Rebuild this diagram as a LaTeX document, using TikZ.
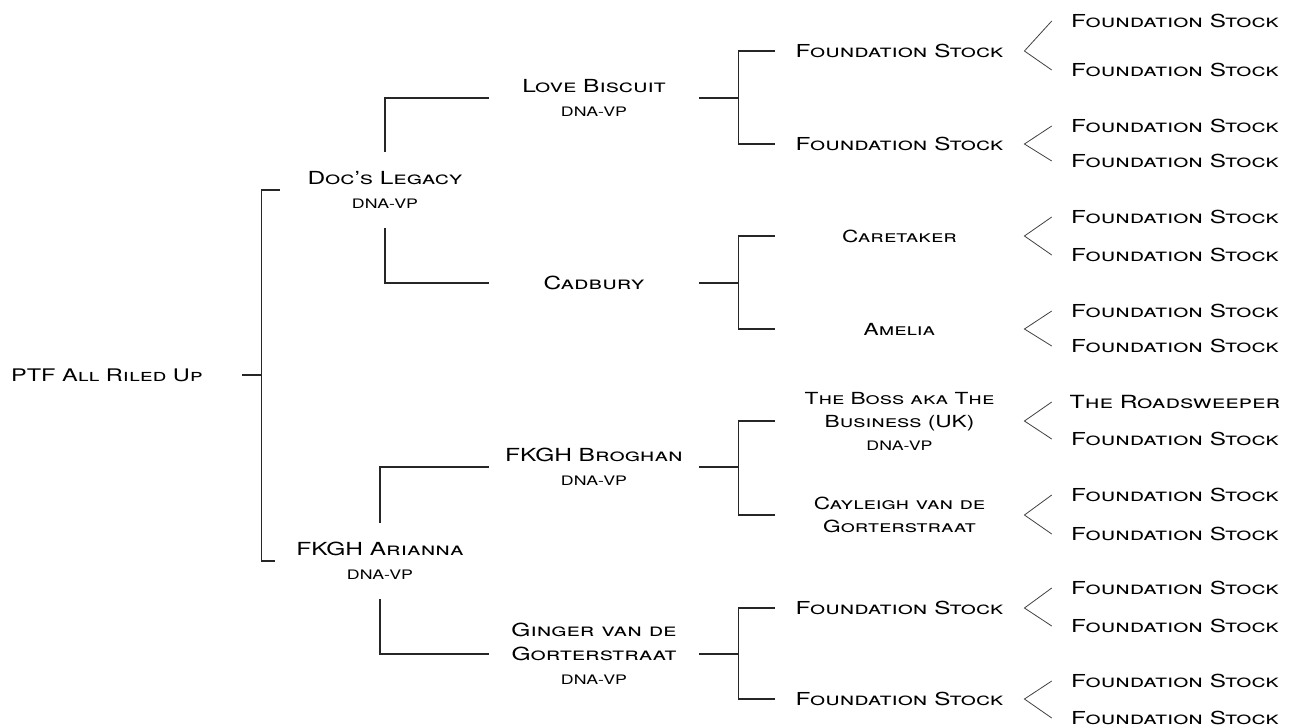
\documentclass[tikz,border=0pt]{standalone}
\usepackage{fontspec}
\setmainfont{TeX Gyre Heros}[FakeStretch=1.36]
\newcommand{\dnavp}{{\fontsize{9.8}{17.5}\selectfont\upshape DNA-VP}}
\tikzset{
    root/.style={font=\fontsize{13}{18}\selectfont\scshape, inner sep=0pt, minimum width=202.5pt},
    horse/.style={font=\fontsize{13.5}{18}\selectfont\scshape, align=center, inner sep=0pt,
        minimum width=157.5pt, minimum height=57pt},
    sire/.style={font=\fontsize{12.5}{17.25}\selectfont\scshape, align=center, inner sep=0pt,
        minimum width=187pt},
    stock/.style={font=\fontsize{12.5}{17}\selectfont\scshape, inner sep=0pt, minimum width=184.5pt},
    wide/.style={font=\fontsize{13.4}{17}\selectfont\scshape},
    big/.style={font=\fontsize{13.6}{17}\selectfont\scshape},
    link/.style={draw=black!85, line width=0.8pt},
    fork/.style={draw=black!75, line width=0.6pt}
}

\begin{document}
\begin{tikzpicture}[x=0.75pt,y=-0.75pt]
    \useasboundingbox (0,0) rectangle (1289,726);

    \node[root] (ptf) at (107,375) {PTF All Riled Up};

    \node[horse] (doc) at (385,190) {Doc's Legacy\\\dnavp};
    \node[horse] (ari) at (380,561) {FKGH Arianna\\\dnavp};

    \node[horse] (lb) at (594,98) {Love Biscuit\\\dnavp};
    \node[horse] (cad) at (594,283) {Cadbury};
    \node[horse] (bro) at (594,467) {FKGH Broghan\\\dnavp};
    \node[horse] (gin) at (594,654) {Ginger van de\\Gorterstraat\\\dnavp};

    \node[sire,wide] (fs1) at (899.5,51) {Foundation Stock};
    \node[sire,wide] (fs2) at (899.5,144) {Foundation Stock};
    \node[sire] (care) at (899.5,236) {Caretaker};
    \node[sire] (ame) at (899.5,329) {Amelia};
    \node[sire] (boss) at (899.5,421) {The Boss aka The\\Business (UK)\\\dnavp};
    \node[sire] (cay) at (899.5,515) {Cayleigh van de\\Gorterstraat};
    \node[sire,wide] (fs3) at (899.5,608) {Foundation Stock};
    \node[sire,wide] (fs4) at (899.5,699) {Foundation Stock};

    \foreach \y/\s/\t [count=\i] in {21/wide/Foundation Stock, 70/wide/Foundation Stock,
        126/wide/Foundation Stock, 161/wide/Foundation Stock, 217/wide/Foundation Stock,
        255/wide/Foundation Stock, 311/wide/Foundation Stock, 346/wide/Foundation Stock,
        402/big/The Roadsweeper, 439/wide/Foundation Stock, 495/wide/Foundation Stock,
        534/wide/Foundation Stock, 588/wide/Foundation Stock, 626/wide/Foundation Stock,
        681/wide/Foundation Stock, 718/wide/Foundation Stock}
        \node[stock,\s] (r\i) at (1175,\y) {\t};

    \draw[link] (ptf.east) -- ++(19,0) coordinate (pj);
    \draw[link] (doc.west) -| (pj) |- (ari.west);

    \draw[link] (doc.north) |- (lb.west);
    \draw[link] (doc.south) |- (cad.west);
    \draw[link] (ari.north) |- (bro.west);
    \draw[link] (ari.south) |- (gin.west);

    \foreach \p/\a/\b in {lb/fs1/fs2, cad/care/ame, bro/boss/cay, gin/fs3/fs4}{
        \draw[link] (\p.east) -- ++(39,0) coordinate (\p j);
        \draw[link] (\a.west) -| (\p j) |- (\b.west);
    }

    \foreach \g/\a/\b in {fs1/1/2, fs2/3/4, care/5/6, ame/7/8, boss/9/10, cay/11/12, fs3/13/14, fs4/15/16}
        \draw[fork] (r\a.west) -- (\g.east) -- (r\b.west);
\end{tikzpicture}
\end{document}
